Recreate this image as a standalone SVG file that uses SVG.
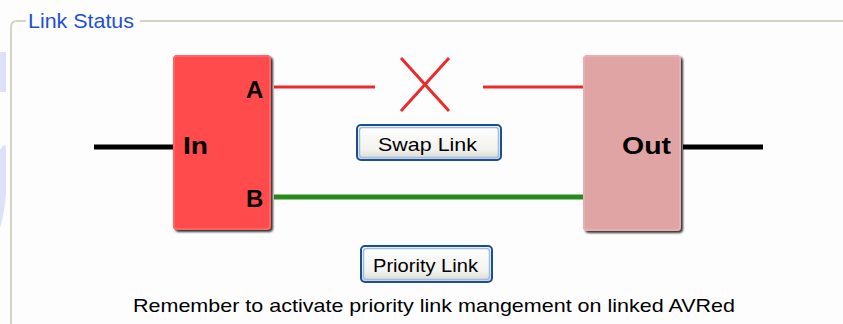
<svg xmlns="http://www.w3.org/2000/svg" width="843" height="324" viewBox="0 0 843 324">
  <defs>
    <linearGradient id="btnFace" x1="0" y1="0" x2="0" y2="1">
      <stop offset="0" stop-color="#ffffff"/>
      <stop offset="0.7" stop-color="#f2f2ee"/>
      <stop offset="1" stop-color="#d8d8d0"/>
    </linearGradient>
    <filter id="blockShadow" x="-10%" y="-10%" width="130%" height="130%">
      <feGaussianBlur in="SourceAlpha" stdDeviation="1.2"/>
      <feOffset dx="2" dy="2" result="s"/>
      <feComponentTransfer><feFuncA type="linear" slope="0.8"/></feComponentTransfer>
      <feMerge><feMergeNode/><feMergeNode in="SourceGraphic"/></feMerge>
    </filter>
  </defs>
  <style>
    .frame { fill: none; stroke: #d3d3c6; stroke-width: 2; }
    .title { font-family: "Liberation Sans", Arial, sans-serif; font-size: 21px; fill: #1f4fd6; }
    .port { font-family: "Liberation Sans", Arial, sans-serif; font-size: 24px; font-weight: bold; fill: #000; }
    .btnText { font-family: "Liberation Sans", Arial, sans-serif; font-size: 19px; fill: #000; }
    .note { font-family: "Liberation Sans", Arial, sans-serif; font-size: 19px; fill: #000; }
    .btn { fill: url(#btnFace); stroke: #1c4f8f; stroke-width: 2; }
    .btnGlow { fill: none; stroke: #9dbde8; stroke-width: 1.5; }
    .wireBlack { stroke: #000; stroke-width: 5; }
    .wireRed { stroke: #ec2a2a; stroke-width: 3; }
    .wireGreen { stroke: #268a1e; stroke-width: 5; }
  </style>

  <!-- window background -->
  <rect x="0" y="0" width="843" height="324" fill="#fdfdfd"/>
  <path d="M0 52 H6 V92 H0 Z" fill="#dde1f8"/>
  <path d="M0 150 Q6 140 6 150 V195 Q4 215 0 228 Z" fill="#dde1f8"/>

  <!-- group box -->
  <path class="frame" d="M26 21 H17 Q11 21 11 27 V324"/>
  <path class="frame" d="M140 21 H843"/>
  <text class="title" x="28" y="28" textLength="106" lengthAdjust="spacingAndGlyphs">Link Status</text>

  <!-- connectors -->
  <g id="connectors">
    <line class="wireBlack" x1="94" y1="147" x2="174" y2="147"/>
    <line class="wireBlack" x1="683" y1="147" x2="763" y2="147"/>
    <line class="wireRed" x1="274" y1="87" x2="375" y2="87"/>
    <line class="wireRed" x1="483" y1="87" x2="583" y2="87"/>
    <line class="wireGreen" x1="274" y1="197" x2="583" y2="197"/>
    <!-- broken-link marker -->
    <line class="wireRed" x1="401" y1="58" x2="449" y2="111"/>
    <line class="wireRed" x1="449" y1="58" x2="401" y2="111"/>
  </g>

  <!-- input block -->
  <g id="in-block">
    <rect x="173" y="55" width="98" height="175" rx="4" fill="#ff4b4b" filter="url(#blockShadow)"/>
    <rect x="174" y="56" width="96" height="173" rx="3" fill="none" stroke="#ff7a7a" stroke-width="1"/>
    <text class="port" x="183" y="154" textLength="25" lengthAdjust="spacingAndGlyphs">In</text>
    <text class="port" x="246" y="98">A</text>
    <text class="port" x="246" y="207">B</text>
  </g>

  <!-- output block -->
  <g id="out-block">
    <rect x="583" y="55" width="98" height="176" rx="4" fill="#e0a4a4" filter="url(#blockShadow)"/>
    <rect x="584" y="56" width="96" height="174" rx="3" fill="none" stroke="#ebbcbc" stroke-width="1"/>
    <text class="port" x="622" y="154" textLength="49" lengthAdjust="spacingAndGlyphs">Out</text>
  </g>

  <!-- swap button -->
  <g id="swap-link">
    <rect class="btn" x="357" y="125" width="144" height="35" rx="4"/>
    <rect class="btnGlow" x="359.5" y="127.5" width="139" height="30" rx="3"/>
    <text class="btnText" x="378" y="151" textLength="99" lengthAdjust="spacingAndGlyphs">Swap Link</text>
  </g>

  <!-- priority button -->
  <g id="priority-link">
    <rect class="btn" x="361" y="246" width="131" height="36" rx="4"/>
    <rect class="btnGlow" x="363.5" y="248.5" width="126" height="31" rx="3"/>
    <text class="btnText" x="373" y="272" textLength="105" lengthAdjust="spacingAndGlyphs">Priority Link</text>
  </g>

  <text class="note" x="133" y="312" textLength="602" lengthAdjust="spacingAndGlyphs">Remember to activate priority link mangement on linked AVRed</text>
</svg>
